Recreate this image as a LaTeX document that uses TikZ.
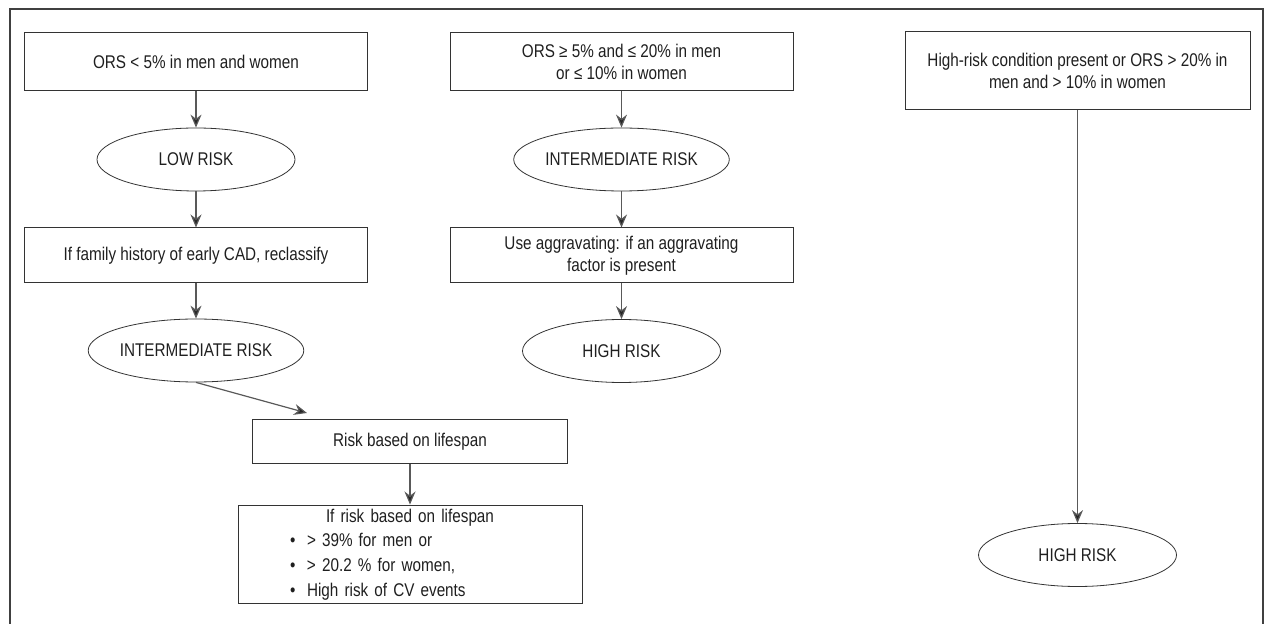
\documentclass[tikz,border=0pt]{standalone}
\usepackage{fontspec}
\setmainfont[FakeStretch=0.83]{Liberation Sans}
\usetikzlibrary{shapes.geometric,arrows.meta}

\begin{document}
\begin{tikzpicture}[x=0.5pt,y=-0.5pt,
    font=\fontsize{9.2}{10.8}\selectfont, text=black!88,
    box/.style={draw=black!80, line width=0.5pt, minimum width=171.5pt, align=center, inner sep=2pt},
    risk/.style={draw=black!80, line width=0.4pt, ellipse, minimum width=99pt, minimum height=31.5pt, inner sep=0pt},
    link/.style={draw=black!65, line width=0.6pt, -{Stealth[length=6.5pt,width=5.5pt,fill=black!85]}}]

        \useasboundingbox (0,0) rectangle (1267,624);
        \draw[black!75, line width=0.8pt] (10,640) -- (10,9) -- (1263,9) -- (1263,640);

        % left column
        \node[box, minimum height=29pt] (orslow) at (196,62) {ORS < 5\% in men and women};
        \node[risk] (low) at (196,159.5) {LOW RISK};
        \node[box, minimum height=27.5pt] (family) at (196,255.5) {If family history of early CAD, reclassify};
        \node[risk] (intera) at (196,350.5) {INTERMEDIATE RISK};
        \node[box, minimum width=157.5pt, minimum height=21.5pt] (lifespan) at (410,441.5) {Risk based on lifespan};
        \node[box, align=left, text width=164pt, inner xsep=4pt, minimum height=48.5pt,
              font=\fontsize{9.2}{12.3}\selectfont] (liferule) at (410,554.5)
              {\makebox[164pt]{If risk based on lifespan}\\
               \hspace*{22pt}\makebox[8.5pt][l]{\textbullet}> 39\% for men or\\
               \hspace*{22pt}\makebox[8.5pt][l]{\textbullet}> 20.2 \% for women,\\
               \hspace*{22pt}\makebox[8.5pt][l]{\textbullet}High risk of CV events};
        \coordinate (slant) at (307,413);

        % middle column
        \node[box, minimum height=29pt] (orsmid) at (621.5,62) {ORS ≥ 5\% and ≤ 20\% in men\\or ≤ 10\% in women};
        \node[risk] (interb) at (621.5,159.5) {INTERMEDIATE RISK};
        \node[box, minimum height=27.5pt] (aggr) at (621.5,255.5) {Use aggravating: if an aggravating\\factor is present};
        \node[risk] (highb) at (621.5,351) {HIGH RISK};

        % right column
        \node[box, minimum width=172.5pt, minimum height=39pt] (orshigh) at (1077.5,71) {High-risk condition present or ORS > 20\% in\\men and > 10\% in women};
        \node[risk] (highc) at (1077.5,555) {HIGH RISK};

        \draw[link] (orslow) -- (low);
        \draw[link] (low) -- (family);
        \draw[link] (family) -- (intera);
        \draw[link] (intera.south) -- (slant);
        \draw[link] (lifespan) -- (liferule);

        \draw[link] (orsmid) -- (interb);
        \draw[link] (interb) -- (aggr);
        \draw[link] (aggr) -- (highb);

        \draw[link] (orshigh) -- (highc);

      \end{tikzpicture}
\end{document}
